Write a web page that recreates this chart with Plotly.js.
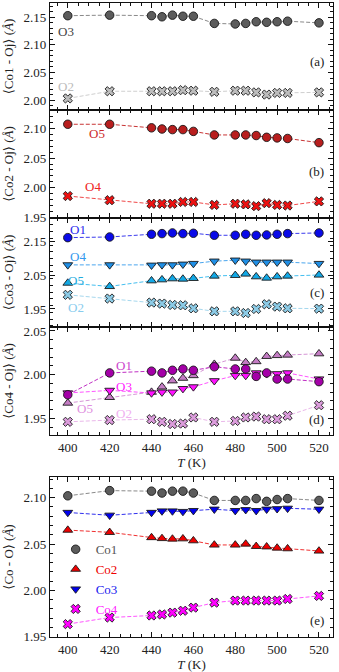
<!DOCTYPE html>
<html>
<head>
<meta charset="utf-8">
<script src="https://cdn.plot.ly/plotly-3.0.1.min.js"></script>
<style>html,body{margin:0;padding:0;background:#fff;}#chart{width:339px;height:672px;}</style>
</head>
<body>
<div id="chart"></div>
<script>
var T = [400,420,440,445,450,455,460,470,480,485,490,495,500,505,520];

var aO3 = [2.153,2.154,2.153,2.151,2.154,2.152,2.152,2.139,2.138,2.139,2.142,2.141,2.142,2.143,2.140];
var aO2 = [2.003,2.016,2.016,2.016,2.016,2.018,2.017,2.015,2.017,2.017,2.014,2.010,2.013,2.013,2.014];

var bO5 = [2.107,2.107,2.101,2.099,2.098,2.098,2.095,2.089,2.089,2.089,2.088,2.085,2.084,2.083,2.076];
var bO4 = [1.986,1.979,1.973,1.973,1.973,1.976,1.976,1.971,1.973,1.972,1.969,1.974,1.971,1.970,1.977];

var cO1 = [2.162,2.164,2.172,2.174,2.176,2.174,2.175,2.169,2.169,2.172,2.169,2.170,2.172,2.174,2.176];
var cO4 = [2.081,2.081,2.080,2.081,2.081,2.083,2.085,2.092,2.095,2.092,2.089,2.089,2.089,2.089,2.085];
var cO5 = [2.027,2.017,2.034,2.037,2.040,2.039,2.041,2.048,2.050,2.054,2.046,2.042,2.046,2.048,2.051];
var cO2 = [1.992,1.981,1.969,1.966,1.962,1.961,1.952,1.943,1.943,1.938,1.950,1.964,1.957,1.952,1.951];

var dO1 = [1.977,2.002,2.004,2.002,2.005,2.0065,2.005,2.009,2.0065,2.0065,1.998,2.002,1.995,1.995,1.992];
var dO3 = [1.979,1.982,1.979,1.980,1.980,1.984,1.986,1.993,1.999,1.999,2.002,2.001,2.001,2.002,1.995];
var dO5 = [1.9675,1.974,1.980,1.986,1.993,1.996,1.999,2.012,2.019,2.014,2.015,2.021,2.022,2.0225,2.024];
var dO2 = [1.946,1.948,1.949,1.946,1.9435,1.944,1.951,1.946,1.947,1.951,1.952,1.949,1.949,1.953,1.965];

var eCo1 = [2.102,2.1076,2.107,2.105,2.107,2.107,2.105,2.097,2.097,2.097,2.099,2.096,2.098,2.099,2.097];
var eCo2 = [2.065,2.0626,2.057,2.056,2.0554,2.0557,2.0536,2.049,2.049,2.050,2.0475,2.047,2.0457,2.045,2.0425];
var eCo3 = [2.084,2.081,2.084,2.0856,2.0856,2.085,2.086,2.0875,2.086,2.087,2.086,2.0875,2.088,2.0885,2.0875];
var eCo4 = [1.9636,1.9707,1.9729,1.974,1.976,1.978,1.9814,1.9868,1.989,1.989,1.989,1.989,1.989,1.9907,1.994];

var panelLetters = ['(a)','(b)','(c)','(d)','(e)'];
var yTitles = ['⟨Co1 - Oj⟩ (<i>Å</i>)','⟨Co2 - Oj⟩ (<i>Å</i>)','⟨Co3 - Oj⟩ (<i>Å</i>)','⟨Co4 - Oj⟩ (<i>Å</i>)','⟨Co - O⟩ (<i>Å</i>)'];
var xTitle = '<i>T</i> (K)';
var eNames = ['Co1','Co2','Co3','Co4'];

var FONT = 'Liberation Serif, DejaVu Serif, serif';
var traces = [];
function add(k, y, sym, fill, lcol, name, legend){
  var xa = 'x' + (k===1?'':k), ya = 'y' + (k===1?'':k);
  traces.push({x:T, y:y, xaxis:xa, yaxis:ya, mode:'lines', showlegend:false, hoverinfo:'skip',
    line:{color:lcol, width:1, dash:'4px,2px'}});
  traces.push({x:T, y:y, xaxis:xa, yaxis:ya, mode:'markers', name:name, showlegend:!!legend,
    marker:{symbol:sym, size:(sym==='x'?8.2:8.5), color:fill, line:{color:'#1a1a1a', width:0.9}}});
}
add(1, aO3, 'circle', '#5c5c5c', '#8a8a8a', 'O3');
add(1, aO2, 'x', '#bdbdbd', '#cfcfcf', 'O2');
add(2, bO5, 'circle', '#b81e1e', '#c83434', 'O5');
add(2, bO4, 'x', '#ee1111', '#f04848', 'O4');
add(3, cO1, 'circle', '#0a0ae8', '#3a3aee', 'O1');
add(3, cO4, 'triangle-down', '#1f8fe6', '#4aa6ee', 'O4');
add(3, cO5, 'triangle-up', '#12a8e6', '#45bff0', 'O5');
add(3, cO2, 'x', '#8ccbe6', '#a6d8ee', 'O2');
add(4, dO2, 'x', '#dc9cdc', '#eab8ea', 'O2');
add(4, dO5, 'triangle-up', '#c47cc4', '#d696d6', 'O5');
add(4, dO3, 'triangle-down', '#ff10ff', '#ff55ff', 'O3');
add(4, dO1, 'circle', '#a400a8', '#c030c4', 'O1');
add(5, eCo1, 'circle', '#5c5c5c', '#8a8a8a', '<span style="color:#555">'+eNames[0]+'</span>', true);
add(5, eCo2, 'triangle-up', '#ee0000', '#f03030', '<span style="color:#ee0000">'+eNames[1]+'</span>', true);
add(5, eCo3, 'triangle-down', '#0000ee', '#3030ee', '<span style="color:#1a1aee">'+eNames[2]+'</span>', true);
add(5, eCo4, 'x', '#ff00ff', '#ff55ff', '<span style="color:#ff22ff">'+eNames[3]+'</span>', true);

var doms = [[0.8312,1.0],[0.6609,0.8312],[0.4890,0.6609],[0.3186,0.4890],[0,0.2524]];
var yr = [[1.982,2.176],[1.949,2.131],[1.8965,2.2204],[1.9309,2.0546],[1.9497,2.1223]];
var ydt = [0.05,0.05,0.1,0.05,0.05];
var ymin = [0.01,0.01,0.02,0.01,0.01];
var yt0 = [2.0,1.95,1.95,1.95,1.95];
var letterY = [0.45,0.43,0.32,0.14,0.105];

var layout = {
  width:339, height:672, paper_bgcolor:'#fff', plot_bgcolor:'#fff',
  margin:{l:50, r:6, t:3, b:35},
  font:{family:FONT, size:13, color:'#222'},
  showlegend:true,
  legend:{x:0.02, y:0.162, xanchor:'left', yanchor:'top', bgcolor:'rgba(0,0,0,0)', borderwidth:0,
    itemwidth:30, font:{family:FONT, size:13}, tracegroupgap:0},
  annotations:[]
};
for (var k=1;k<=5;k++){
  var xs = 'xaxis'+(k===1?'':k), ys = 'yaxis'+(k===1?'':k);
  layout[xs] = {domain:[0,1], anchor:'y'+(k===1?'':k), range:[391.5,526.7], tick0:400, dtick:20,
    ticks:'inside', ticklen:5, tickwidth:1, tickcolor:'#111', showline:true, linecolor:'#111', linewidth:1.2,
    mirror:'ticks', showgrid:false, zeroline:false, showticklabels:(k>=4),
    minor:{dtick:5, ticks:'inside', ticklen:3, tickcolor:'#111', showgrid:false},
    tickfont:{family:FONT, size:13, color:'#222'}};
  if (k>=4) layout[xs].title = {text:xTitle, font:{family:FONT, size:13, color:'#222'}, standoff:4};
  layout[ys] = {domain:doms[k-1], anchor:'x'+(k===1?'':k), range:yr[k-1], tick0:yt0[k-1], dtick:ydt[k-1],
    tickformat:'.2f', ticks:'inside', ticklen:5, tickwidth:1, tickcolor:'#111', showline:true, linecolor:'#111', linewidth:1.2,
    mirror:'ticks', showgrid:false, zeroline:false,
    minor:{dtick:ymin[k-1], ticks:'inside', ticklen:3, tickcolor:'#111', showgrid:false},
    tickfont:{family:FONT, size:13, color:'#222'},
    title:{text:yTitles[k-1], font:{family:FONT, size:13, color:'#222'}, standoff:6}};
  layout.annotations.push({xref:'x'+(k===1?'':k)+' domain', yref:'y'+(k===1?'':k)+' domain', x:0.975, y:letterY[k-1],
    xanchor:'right', yanchor:'middle', text:panelLetters[k-1], showarrow:false, font:{family:FONT, size:13, color:'#222'}});
}
function lab(k, xv, yv, txt, col){
  layout.annotations.push({xref:'x'+(k===1?'':k), yref:'y'+(k===1?'':k), x:xv, y:yv, text:txt, showarrow:false,
    xanchor:'center', yanchor:'middle', font:{family:FONT, size:13, color:col}});
}
lab(1, 399, 2.124, 'O3', '#444');
lab(1, 399, 2.024, 'O2', '#bbbbbb');
lab(2, 414, 2.091, 'O5', '#cc2a2a');
lab(2, 412, 2.002, 'O4', '#ee2222');
lab(3, 405, 2.187, 'O1', '#2a2aee');
lab(3, 405, 2.105, 'O4', '#3399ee');
lab(3, 404, 2.036, 'O5', '#22aadd');
lab(3, 404, 1.955, 'O2', '#88ccee');
lab(4, 427, 2.011, 'O1', '#cc44cc');
lab(4, 427, 1.986, 'O3', '#ff22ff');
lab(4, 408, 1.961, 'O5', '#e090e0');
lab(4, 427, 1.955, 'O2', '#f0b0f0');

Plotly.newPlot('chart', traces, layout, {staticPlot:true, displayModeBar:false});
</script>
</body>
</html>
